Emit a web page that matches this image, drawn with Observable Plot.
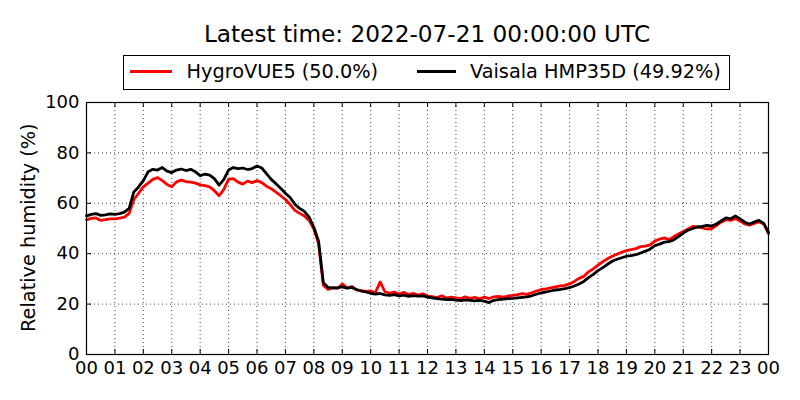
<!DOCTYPE html>
<html><head><meta charset="utf-8">
<script src="https://cdn.jsdelivr.net/npm/d3@7"></script>
<script src="https://cdn.jsdelivr.net/npm/@observablehq/plot@0.6"></script>
<style>
body{margin:0;background:#fff;font-family:"DejaVu Sans",sans-serif;}
#wrap{position:relative;width:800px;height:400px;overflow:hidden;}
#wrap svg{position:absolute;left:0;top:0;}
#title{position:absolute;left:86px;width:682px;top:22px;text-align:center;font-size:23.2px;line-height:23.2px;color:#000;white-space:nowrap;}
#ylab{position:absolute;left:-121.5px;top:218.35px;width:300px;height:19.3px;text-align:center;font-size:19.3px;line-height:19.3px;color:#000;transform:rotate(-90deg);white-space:nowrap;}
#legend{position:absolute;left:123px;top:55px;width:607px;height:35px;border:1px solid #000;box-sizing:border-box;background:#fff;}
.sw{position:absolute;top:13.5px;height:3px;}
.lt{position:absolute;top:6px;font-size:19.3px;line-height:19.3px;color:#000;white-space:nowrap;}
</style>
</head><body>
<div id="wrap">
  <div id="chart"></div>
  <div id="title"></div>
  <div id="ylab"></div>
  <div id="legend"></div>
</div>
<script>
const titleText = "Latest time: 2022-07-21 00:00:00 UTC";
const seriesNames = ["HygroVUE5 (50.0%)", "Vaisala HMP35D (49.92%)"];
const seriesColors = ["#ff0000", "#000000"];
const yLabel = "Relative humidity (%)";
const hourTicks = d3.range(0, 25, 1);
const yTicks = [0, 20, 40, 60, 80, 100];

// 10-minute samples from 00:00 to 24:00 (145 points)
const hours = d3.range(145).map(i => i / 6);
const hygro = [
 53.4,54.0,54.2,53.2,53.5,53.8,
 53.8,54.1,54.5,56.0,61.5,64.0,
 66.5,68.0,69.5,70.2,69.0,67.5,
 66.6,68.5,69.2,68.6,68.4,68.0,
 67.3,67.0,66.5,65.0,63.0,65.5,
 69.6,69.8,68.4,67.6,68.8,68.2,
 69.0,68.2,66.8,65.8,64.4,63.0,
 61.5,59.5,57.2,56.0,55.0,53.2,
 49.8,44.0,27.5,25.8,26.5,26.2,
 28.0,26.4,27.0,25.6,25.3,25.0,
 25.2,24.6,28.8,24.9,24.4,24.8,
 24.0,24.7,23.8,24.3,23.6,24.1,
 23.2,23.0,22.6,23.3,22.4,22.8,
 22.5,22.2,22.9,22.3,22.7,22.1,
 22.8,22.2,22.9,23.1,22.8,23.2,
 23.5,23.8,24.2,23.9,24.5,25.2,
 25.8,26.0,26.4,26.8,27.2,27.4,
 28.0,29.0,30.2,31.0,32.8,34.0,
 35.5,36.8,38.0,39.0,39.8,40.6,
 41.2,41.6,42.0,42.8,43.0,43.5,
 45.0,45.8,46.3,45.6,46.8,47.8,
 48.8,49.8,50.8,50.6,50.2,49.8,
 50.0,51.2,52.5,53.5,53.2,54.0,
 53.0,51.8,51.3,52.0,52.6,51.8,
 48.0
];
const vaisala = [
 55.0,55.6,55.9,55.2,55.4,55.8,
 55.6,55.9,56.5,58.0,64.5,66.5,
 69.0,72.5,73.5,73.2,74.2,72.8,
 72.2,73.2,73.6,73.0,73.5,72.5,
 71.0,71.6,71.2,69.8,67.2,69.5,
 73.2,74.2,73.8,74.0,73.4,73.8,
 74.8,74.0,71.8,69.5,67.8,66.0,
 64.0,62.3,59.6,58.0,56.8,54.5,
 50.5,45.0,28.5,26.6,26.3,26.5,
 26.8,26.3,26.6,25.8,25.2,24.8,
 24.3,24.0,24.2,23.7,23.5,23.8,
 23.3,23.6,23.1,23.4,23.2,23.3,
 22.8,22.5,22.2,22.0,21.8,21.9,
 21.6,21.4,21.7,21.5,21.3,21.5,
 21.2,20.6,21.5,21.8,22.0,22.2,
 22.3,22.5,22.7,22.9,23.3,23.9,
 24.5,24.8,25.2,25.6,25.8,26.1,
 26.5,27.2,28.0,29.0,30.5,31.8,
 33.3,34.5,35.8,37.0,37.8,38.4,
 39.0,39.2,39.6,40.3,41.0,41.8,
 43.2,43.8,44.6,44.8,45.5,46.8,
 48.2,49.3,50.0,50.6,50.8,51.2,
 51.0,51.8,53.0,54.2,53.8,55.0,
 53.8,52.5,51.8,52.6,53.2,52.0,
 48.5
];

const rows = [];
[hygro, vaisala].forEach((vals, s) => {
  vals.forEach((v, i) => rows.push({h: hours[i], v, s: seriesNames[s]}));
});

const plot = Plot.plot({
  width: 800, height: 400,
  marginLeft: 86, marginRight: 32, marginTop: 102, marginBottom: 46,
  style: {fontFamily: "DejaVu Sans, sans-serif", fontSize: "18px", color: "#000", background: "#fff"},
  x: {domain: [0, 24]},
  y: {domain: [0, 100]},
  color: {domain: seriesNames, range: seriesColors},
  marks: [
    Plot.gridX(hourTicks, {stroke: "#000", strokeOpacity: 0.75, strokeDasharray: "1,3", strokeWidth: 1}),
    Plot.gridY(yTicks, {stroke: "#000", strokeOpacity: 0.75, strokeDasharray: "1,3", strokeWidth: 1}),
    Plot.line(rows, {x: "h", y: "v", z: "s", stroke: "s", strokeWidth: 2.8, strokeLinejoin: "round"}),
    Plot.tickX(hourTicks, {x: d => d, insetTop: 247, stroke: "#000"}),
    Plot.tickX(hourTicks, {x: d => d, insetBottom: 247, stroke: "#000"}),
    Plot.tickY(yTicks, {y: d => d, insetRight: 677, stroke: "#000"}),
    Plot.tickY(yTicks, {y: d => d, insetLeft: 677, stroke: "#000"}),
    Plot.frame({stroke: "#000", strokeWidth: 1.2}),
    Plot.axisX(hourTicks, {tickSize: 0, tickPadding: 7, fontSize: 18,
      tickFormat: d => String(d % 24).padStart(2, "0"), label: null}),
    Plot.axisY(yTicks, {tickSize: 0, tickPadding: 7, fontSize: 18, label: null})
  ]
});
document.getElementById("chart").appendChild(plot);
document.getElementById("title").textContent = titleText;
document.getElementById("ylab").textContent = yLabel;

const leg = document.getElementById("legend");
const swX = [6, 292.5], swW = [42, 39], txX = [62.5, 346];
seriesNames.forEach((n, i) => {
  const sw = document.createElement("div");
  sw.className = "sw";
  sw.style.left = swX[i] + "px"; sw.style.width = swW[i] + "px";
  sw.style.background = seriesColors[i];
  leg.appendChild(sw);
  const t = document.createElement("div");
  t.className = "lt"; t.style.left = txX[i] + "px"; t.textContent = n;
  leg.appendChild(t);
});
</script>
</body></html>
